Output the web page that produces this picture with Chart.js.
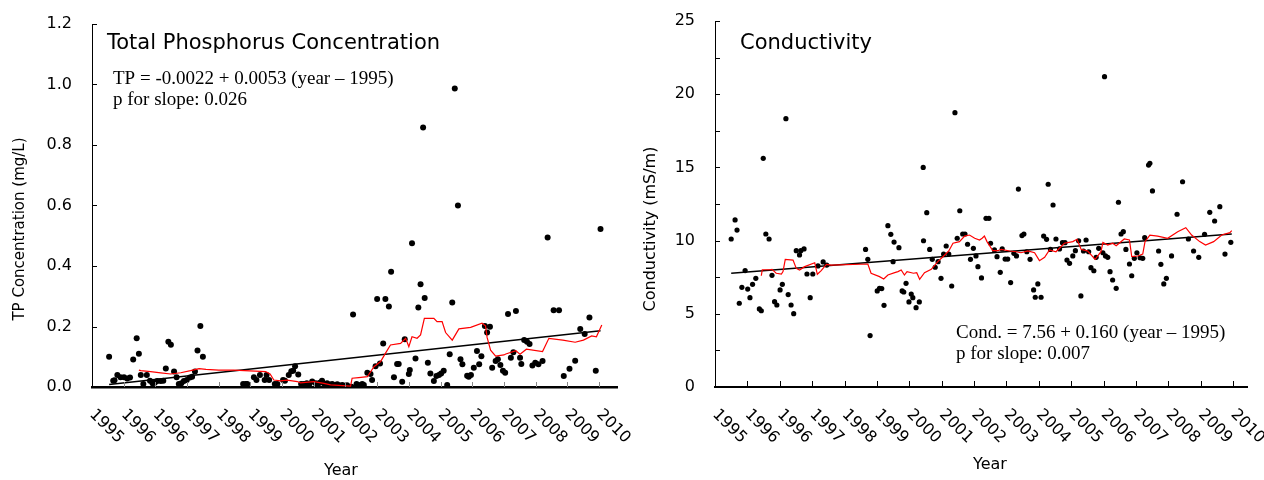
<!DOCTYPE html>
<html>
<head>
<meta charset="utf-8">
<script src="https://cdn.jsdelivr.net/npm/chart.js@4.4.1/dist/chart.umd.min.js"></script>
<style>
  body { margin: 0; background: #fff; }
  #wrap { position: relative; width: 1264px; height: 480px; }
  .box { position: absolute; top: 0; height: 480px; }
</style>
</head>
<body>
<div id="wrap">
  <div class="box" style="left:0;width:640px"><canvas id="tpChart"></canvas></div>
  <div class="box" style="left:640px;width:624px"><canvas id="condChart"></canvas></div>
</div>
<script>
// x positions are in label-slot units: 0 = first "1995" label, 16 = "2010"
const yearLabels = ["1995", "1996", "1996", "1997", "1998", "1999", "2000", "2001", "2002",
  "2003", "2004", "2005", "2006", "2007", "2008", "2009", "2010"]

// Total phosphorus samples (mg/L)
const tpX = [0.54, 0.67, 0.71, 0.80, 0.90, 1.01, 1.11, 1.20, 1.30, 1.41, 1.48, 1.54, 1.62, 1.73, 1.83, 1.91,
  1.98, 2.06, 2.17, 2.25, 2.33, 2.41, 2.49, 2.59, 2.67, 2.74, 2.82, 2.90, 2.99, 3.09, 3.16, 3.25, 3.33, 3.42,
  3.50, 4.77, 4.85, 4.90, 5.11, 5.19, 5.30, 5.45, 5.51, 5.59, 5.77, 5.85, 6.03, 6.09, 6.21, 6.29, 6.35, 6.41,
  6.51, 6.60, 6.69, 6.78, 6.86, 6.95, 7.06, 7.12, 7.19, 7.26, 7.34, 7.42, 7.50, 7.58, 7.66, 7.74, 7.82, 7.90,
  7.98, 8.05, 8.19, 8.24, 8.35, 8.42, 8.53, 8.58, 8.69, 8.79, 8.84, 8.95, 9.00, 9.09, 9.19, 9.26, 9.37, 9.44,
  9.53, 9.63, 9.68, 9.79, 9.87, 10.00, 10.03, 10.10, 10.21, 10.30, 10.37, 10.45, 10.50, 10.60, 10.68, 10.79,
  10.87, 10.95, 11.02, 11.10, 11.21, 11.29, 11.37, 11.45, 11.55, 11.63, 11.69, 11.84, 11.89, 11.96, 12.05,
  12.15, 12.22, 12.29, 12.40, 12.47, 12.56, 12.63, 12.74, 12.81, 12.89, 12.97, 13.04, 13.13, 13.22, 13.30,
  13.38, 13.51, 13.55, 13.64, 13.73, 13.81, 13.90, 13.99, 14.09, 14.22, 14.38, 14.57, 14.74, 14.89, 15.07,
  15.25, 15.41, 15.55, 15.70, 15.90, 16.05]
const tpY = [0.100, 0.021, 0.022, 0.040, 0.032, 0.032, 0.028, 0.031, 0.091, 0.161, 0.110, 0.040, 0.010, 0.040,
  0.021, 0.012, 0.014, 0.020, 0.020, 0.021, 0.061, 0.150, 0.140, 0.051, 0.032, 0.010, 0.012, 0.020, 0.023,
  0.031, 0.034, 0.051, 0.121, 0.202, 0.100, 0.010, 0.010, 0.010, 0.032, 0.023, 0.040, 0.023, 0.040, 0.023,
  0.010, 0.010, 0.023, 0.021, 0.040, 0.052, 0.054, 0.069, 0.041, 0.010, 0.010, 0.012, 0.010, 0.018, 0.012,
  0.008, 0.014, 0.021, 0.010, 0.012, 0.008, 0.010, 0.006, 0.009, 0.005, 0.007, 0.004, 0.006, 0.001, 0.240,
  0.010, 0.007, 0.010, 0.007, 0.047, 0.043, 0.023, 0.069, 0.291, 0.078, 0.144, 0.291, 0.266, 0.381, 0.032,
  0.076, 0.076, 0.017, 0.158, 0.043, 0.056, 0.475, 0.094, 0.263, 0.340, 0.858, 0.294, 0.080, 0.045, 0.020,
  0.036, 0.040, 0.045, 0.054, 0.007, 0.108, 0.279, 0.987, 0.600, 0.092, 0.075, 0.037, 0.034, 0.040, 0.064,
  0.119, 0.075, 0.102, 0.202, 0.180, 0.199, 0.064, 0.086, 0.092, 0.073, 0.054, 0.047, 0.241, 0.097, 0.115,
  0.251, 0.097, 0.076, 0.155, 0.150, 0.142, 0.071, 0.080, 0.075, 0.086, 0.494, 0.254, 0.254, 0.036, 0.060,
  0.087, 0.192, 0.175, 0.230, 0.054, 0.522]

// TP moving average (red) and linear fit (black)
const tpAvgX = [1.48, 1.54, 1.85, 2.17, 2.48, 2.80, 3.11, 3.38, 3.60, 4.00, 4.48, 5.48, 5.62, 5.74, 5.95, 6.16,
  6.48, 6.58, 7.00, 7.32, 7.53, 8.16, 8.21, 8.42, 8.69, 8.90, 9.11, 9.26, 9.42, 9.74, 9.90, 10.00, 10.10,
  10.26, 10.37, 10.49, 10.79, 10.89, 11.05, 11.16, 11.37, 11.58, 11.95, 12.31, 12.42, 12.47, 12.58, 12.74,
  13.00, 13.06, 13.38, 13.51, 13.71, 14.22, 14.42, 14.86, 15.25, 15.51, 15.77, 15.92, 16.09]
const tpAvgY = [0.056, 0.054, 0.051, 0.047, 0.043, 0.047, 0.054, 0.061, 0.058, 0.056, 0.056, 0.051, 0.043,
  0.023, 0.020, 0.023, 0.018, 0.014, 0.018, 0.012, 0.007, 0.003, 0.029, 0.031, 0.034, 0.067, 0.084, 0.111,
  0.139, 0.144, 0.161, 0.133, 0.166, 0.161, 0.172, 0.227, 0.227, 0.216, 0.216, 0.180, 0.155, 0.192, 0.197,
  0.211, 0.202, 0.164, 0.122, 0.102, 0.106, 0.109, 0.120, 0.108, 0.125, 0.117, 0.161, 0.155, 0.148, 0.155,
  0.169, 0.166, 0.205]
const tpTrendX = [0.54, 16.05]
const tpTrendY = [0.008, 0.186]

// Conductivity samples (mS/m)
const condX = [0.50, 0.62, 0.68, 0.75, 0.83, 0.93, 1.01, 1.08, 1.16, 1.26, 1.37, 1.43, 1.49, 1.57, 1.67, 1.76,
  1.84, 1.91, 2.01, 2.08, 2.19, 2.26, 2.35, 2.43, 2.51, 2.61, 2.65, 2.75, 2.84, 2.94, 3.02, 3.18, 3.34, 3.45,
  4.65, 4.72, 4.79, 5.01, 5.08, 5.15, 5.22, 5.34, 5.43, 5.50, 5.53, 5.68, 5.78, 5.83, 5.90, 5.99, 6.06, 6.11,
  6.21, 6.31, 6.43, 6.44, 6.54, 6.63, 6.71, 6.80, 6.89, 6.98, 7.06, 7.14, 7.22, 7.31, 7.41, 7.48, 7.56, 7.65,
  7.72, 7.80, 7.89, 7.98, 8.06, 8.12, 8.23, 8.37, 8.46, 8.51, 8.63, 8.71, 8.81, 8.87, 8.96, 9.04, 9.13, 9.23,
  9.31, 9.37, 9.48, 9.54, 9.63, 9.73, 9.84, 9.89, 9.97, 10.07, 10.15, 10.24, 10.29, 10.36, 10.44, 10.53,
  10.64, 10.73, 10.81, 10.87, 10.95, 11.05, 11.13, 11.23, 11.30, 11.38, 11.46, 11.54, 11.61, 11.70, 11.77,
  11.85, 11.98, 12.03, 12.06, 12.13, 12.20, 12.28, 12.39, 12.46, 12.54, 12.61, 12.69, 12.80, 12.87, 12.95,
  13.03, 13.13, 13.21, 13.27, 13.39, 13.43, 13.51, 13.70, 13.77, 13.86, 13.94, 14.10, 14.27, 14.44, 14.62,
  14.78, 14.94, 15.12, 15.28, 15.43, 15.59, 15.75, 15.93]
const condY = [10.11, 11.41, 10.72, 5.72, 6.81, 7.95, 6.69, 6.10, 7.01, 7.42, 5.33, 5.21, 15.62, 10.45, 10.11,
  7.63, 5.83, 5.60, 6.63, 7.01, 18.33, 6.31, 5.60, 5.01, 9.31, 9.02, 9.31, 9.43, 7.72, 6.10, 7.72, 8.27, 8.54,
  8.33, 9.40, 8.72, 3.51, 6.56, 6.74, 6.72, 5.58, 11.02, 10.43, 8.56, 9.90, 9.52, 6.56, 6.49, 7.08, 5.81, 6.35,
  6.10, 5.42, 5.81, 15.00, 9.99, 11.91, 9.40, 8.72, 8.18, 8.56, 7.42, 9.08, 9.63, 9.08, 6.90, 18.74, 10.16,
  12.04, 10.45, 10.45, 9.75, 8.72, 9.47, 8.95, 8.22, 7.45, 11.52, 11.52, 9.82, 9.36, 8.90, 7.83, 9.43, 8.74,
  8.74, 7.13, 9.13, 8.95, 13.52, 10.34, 10.45, 9.24, 8.72, 6.63, 6.13, 7.04, 6.13, 10.31, 10.09, 13.85, 9.40,
  12.43, 10.11, 9.43, 9.86, 9.86, 8.67, 8.45, 8.95, 9.31, 9.99, 6.22, 9.29, 10.04, 9.24, 8.15, 7.94, 8.86, 9.47,
  9.17, 21.20, 8.95, 8.86, 7.88, 7.31, 6.74, 12.62, 10.45, 10.61, 9.40, 8.40, 7.60, 8.79, 9.17, 8.83, 8.79,
  10.20, 15.16, 15.28, 13.39, 9.29, 8.38, 7.04, 7.42, 8.95, 11.80, 14.02, 10.11, 9.29, 8.86, 10.43, 11.93,
  11.34, 12.32, 9.08, 9.88]

const condAvgX = [1.43, 1.46, 1.69, 1.76, 1.89, 2.05, 2.10, 2.17, 2.41, 2.51, 2.61, 2.77, 3.08, 3.16, 3.28, 3.44,
  3.59, 4.72, 4.82, 5.08, 5.21, 5.34, 5.55, 5.65, 5.75, 5.85, 5.93, 6.13, 6.23, 6.32, 6.47, 6.68, 6.88, 7.04,
  7.22, 7.35, 7.55, 7.71, 7.86, 8.02, 8.17, 8.25, 8.32, 8.40, 8.58, 8.73, 8.84, 9.10, 9.30, 9.45, 9.66, 9.87,
  10.02, 10.18, 10.33, 10.53, 10.79, 11.05, 11.18, 11.31, 11.51, 11.74, 11.92, 11.98, 12.13, 12.28, 12.39,
  12.64, 12.80, 12.87, 13.06, 13.21, 13.28, 13.43, 13.67, 13.98, 14.29, 14.54, 14.72, 14.97, 15.15, 15.40,
  15.65, 15.90, 15.96]
const condAvgY = [7.60, 8.01, 8.01, 8.04, 7.77, 7.72, 7.88, 8.72, 8.67, 8.10, 7.99, 8.22, 8.49, 7.70, 7.95, 8.38,
  8.33, 8.40, 7.77, 7.54, 7.38, 7.65, 7.81, 7.88, 7.99, 7.65, 7.88, 7.77, 7.81, 7.36, 7.81, 8.04, 8.56, 8.90,
  9.29, 9.82, 9.93, 10.31, 10.38, 10.16, 10.04, 10.16, 10.31, 9.93, 9.31, 9.31, 9.40, 9.29, 9.24, 9.17, 9.29,
  9.17, 8.63, 8.86, 9.36, 9.24, 9.82, 9.93, 10.09, 9.40, 9.29, 8.72, 9.24, 9.88, 9.70, 9.82, 9.65, 10.11, 10.04,
  8.90, 8.95, 9.08, 9.93, 10.38, 10.31, 10.16, 10.61, 10.88, 10.38, 9.93, 9.70, 9.93, 10.38, 10.54, 10.68]
const condTrendX = [0.50, 15.96]
const condTrendY = [7.77, 10.45]

const toPoints = (xs, ys) => xs.map((x, i) => ({ x: x, y: ys[i] }))

// draws inward ticks, rotated year labels and the text boxes
const decor = {
  id: "decor",
  afterDraw(chart, args, o) {
    const ctx = chart.ctx
    const xs = chart.scales.x
    const ys = chart.scales.y
    ctx.save()

    // inward y ticks
    ctx.strokeStyle = "#000"
    ctx.lineWidth = 1
    const yStep = o.yMinor ? o.yStep / 2 : o.yStep
    for (let v = 0; v <= ys.max + 1e-9; v += yStep) {
      const py = Math.round(ys.getPixelForValue(v)) + 0.5
      ctx.beginPath()
      ctx.moveTo(xs.left, py)
      ctx.lineTo(xs.left + 5, py)
      ctx.stroke()
    }

    // inward x ticks
    ctx.strokeStyle = o.xTickColor
    for (let i = 1; i < yearLabels.length; i++) {
      const px = Math.round(xs.getPixelForValue(i)) + 0.5
      ctx.beginPath()
      ctx.moveTo(px, ys.bottom)
      ctx.lineTo(px, ys.bottom - o.xTickLen)
      ctx.stroke()
    }

    // rotated year labels
    ctx.fillStyle = "#000"
    ctx.font = "16px 'DejaVu Sans'"
    ctx.textAlign = "left"
    ctx.textBaseline = "middle"
    yearLabels.forEach((lab, i) => {
      ctx.save()
      ctx.translate(xs.getPixelForValue(i), ys.bottom + 25)
      ctx.rotate(Math.PI / 4)
      ctx.fillText(lab, 0, 0)
      ctx.restore()
    })

    // axis titles
    ctx.textAlign = "center"
    ctx.fillText("Year", o.yearPos[0], o.yearPos[1])
    ctx.save()
    ctx.font = o.yTitleFont
    ctx.translate(o.yTitlePos[0], o.yTitlePos[1])
    ctx.rotate(-Math.PI / 2)
    ctx.fillText(o.yTitle, 0, 0)
    ctx.restore()

    // chart title
    ctx.textAlign = "left"
    ctx.textBaseline = "alphabetic"
    ctx.font = "21px 'DejaVu Sans'"
    ctx.fillText(o.title, o.titlePos[0], o.titlePos[1])

    // regression text
    ctx.font = "19px 'Liberation Serif'"
    o.eqLines.forEach((line, i) => {
      ctx.fillText(line, o.eqPos[0], o.eqPos[1] + i * 21)
    })
    ctx.restore()
  },
}

function makeChart(id, cfg) {
  return new Chart(document.getElementById(id), {
    type: "scatter",
    data: {
      datasets: [
        {
          data: toPoints(cfg.avgX, cfg.avgY),
          showLine: true,
          borderColor: "#ff0000",
          borderWidth: 1.2,
          pointRadius: 0,
          tension: 0,
        },
        {
          data: toPoints(cfg.trendX, cfg.trendY),
          showLine: true,
          borderColor: "#000",
          borderWidth: 1.5,
          pointRadius: 0,
        },
        {
          data: toPoints(cfg.x, cfg.y),
          pointRadius: cfg.dot,
          pointBackgroundColor: "#000",
          pointBorderWidth: 0,
        },
      ],
    },
    options: {
      responsive: true,
      maintainAspectRatio: false,
      animation: false,
      layout: { padding: { top: cfg.top, right: cfg.right, left: 0, bottom: 0 } },
      plugins: {
        legend: { display: false },
        tooltip: { enabled: false },
        decor: cfg.decor,
      },
      scales: {
        x: {
          type: "linear",
          min: 0,
          max: cfg.xMax,
          grid: { drawOnChartArea: false, drawTicks: false },
          border: { color: "#000", width: cfg.xAxisWidth },
          ticks: { display: false, stepSize: 1 },
          afterFit: (s) => {
            s.height = 93
            s.paddingLeft = 0
            s.paddingRight = 0
          },
        },
        y: {
          min: 0,
          max: cfg.yMax,
          grid: { drawOnChartArea: false, drawTicks: false },
          border: { color: "#000", width: 1 },
          ticks: {
            stepSize: cfg.yStep,
            padding: 20,
            color: "#000",
            font: { family: "DejaVu Sans", size: 16 },
            callback: cfg.yFmt,
          },
          afterFit: (s) => {
            s.width = cfg.yWidth
            s.paddingTop = 0
            s.paddingBottom = 0
          },
        },
      },
    },
    plugins: [decor],
  })
}

makeChart("tpChart", {
  x: tpX, y: tpY, avgX: tpAvgX, avgY: tpAvgY, trendX: tpTrendX, trendY: tpTrendY,
  dot: 3, top: 24, right: 23, yWidth: 92, xMax: 16.57, yMax: 1.2, yStep: 0.2, xAxisWidth: 2.5,
  yFmt: (v) => v.toFixed(1),
  decor: {
    yStep: 0.2, yMinor: false, xTickColor: "#888", xTickLen: 5,
    yearPos: [341, 471], yTitle: "TP Concentration (mg/L)", yTitleFont: "15px 'DejaVu Sans'",
    yTitlePos: [20, 229],
    title: "Total Phosphorus Concentration", titlePos: [107, 49],
    eqLines: ["TP = -0.0022 + 0.0053 (year \u2013 1995)", "p for slope: 0.026"], eqPos: [113, 84],
  },
})

makeChart("condChart", {
  x: condX, y: condY, avgX: condAvgX, avgY: condAvgY, trendX: condTrendX, trendY: condTrendY,
  dot: 2.6, top: 21, right: 17, yWidth: 75, xMax: 16.43, yMax: 25, yStep: 5, xAxisWidth: 2,
  yFmt: (v) => v,
  decor: {
    yStep: 5, yMinor: true, xTickColor: "#000", xTickLen: 6,
    yearPos: [350, 465], yTitle: "Conductivity (mS/m)", yTitleFont: "16px 'DejaVu Sans'",
    yTitlePos: [11, 229],
    title: "Conductivity", titlePos: [100, 49],
    eqLines: ["Cond. = 7.56 + 0.160 (year \u2013 1995)", "p for slope: 0.007"], eqPos: [316, 338],
  },
})
</script>
</body>
</html>
